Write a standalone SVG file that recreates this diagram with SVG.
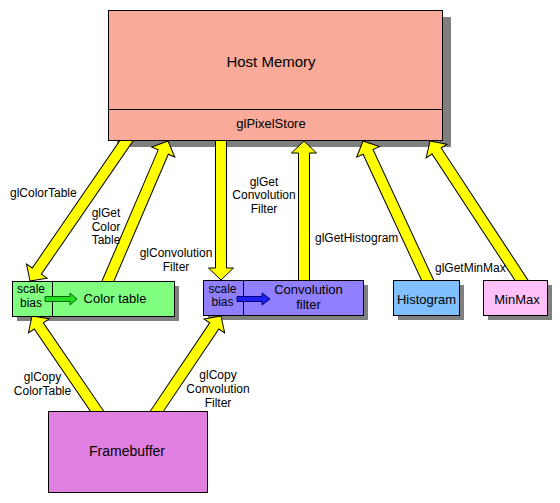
<svg xmlns="http://www.w3.org/2000/svg" width="560" height="503" viewBox="0 0 560 503">
<style>
.bg{fill:#fff}
.shadow{fill:#808080}
.box{stroke:#000;stroke-width:1}
.div{stroke:#000;stroke-width:1;fill:none}
.arrow{fill:#ffff00;stroke:#000;stroke-width:1;stroke-linejoin:miter}
text{font-family:"Liberation Sans",Arial,sans-serif;fill:#000}
.lbl{font-size:12px}
.n13{font-size:13px}
.sb{font-size:12px}
.c{text-anchor:middle}
</style>
<rect class="bg" x="0" y="0" width="560" height="503"/>
<g id="shadows">
<rect class="shadow" x="117" y="17" width="334" height="130"/>
<rect class="shadow" x="17" y="286" width="162" height="35"/>
<rect class="shadow" x="208" y="285" width="160" height="35"/>
<rect class="shadow" x="398" y="285" width="66" height="35"/>
<rect class="shadow" x="488" y="285" width="64" height="35"/>
</g>
<g id="connectors">
<path class="arrow" transform="translate(30,281) rotate(124.53)" d="M0,0 L-12,-12.5 L-12,-5.5 L-177,-5.5 L-177,5.5 L-12,5.5 L-12,12.5 Z"/>
<path class="arrow" transform="translate(168,141) rotate(-66.8)" d="M0,0 L-12,-12.5 L-12,-5.5 L-158,-5.5 L-158,5.5 L-12,5.5 L-12,12.5 Z"/>
<path class="arrow" transform="translate(221,280) rotate(90)" d="M0,0 L-12,-12.5 L-12,-5.5 L-146,-5.5 L-146,5.5 L-12,5.5 L-12,12.5 Z"/>
<path class="arrow" transform="translate(304,141) rotate(-90)" d="M0,0 L-12,-12.5 L-12,-5.5 L-146,-5.5 L-146,5.5 L-12,5.5 L-12,12.5 Z"/>
<path class="arrow" transform="translate(363,141) rotate(-114.9)" d="M0,0 L-12,-12.5 L-12,-5.5 L-160,-5.5 L-160,5.5 L-12,5.5 L-12,12.5 Z"/>
<path class="arrow" transform="translate(430,141) rotate(-123.31)" d="M0,0 L-12,-12.5 L-12,-5.5 L-174,-5.5 L-174,5.5 L-12,5.5 L-12,12.5 Z"/>
<path class="arrow" transform="translate(32,316) rotate(-124.38)" d="M0,0 L-12,-12.5 L-12,-5.5 L-121,-5.5 L-121,5.5 L-12,5.5 L-12,12.5 Z"/>
<path class="arrow" transform="translate(221,316) rotate(-56.03)" d="M0,0 L-12,-12.5 L-12,-5.5 L-121,-5.5 L-121,5.5 L-12,5.5 L-12,12.5 Z"/>
<text class="lbl" x="10" y="197">glColorTable</text>
<text class="lbl c" x="106" y="217">glGet</text>
<text class="lbl c" x="106" y="230.5">Color</text>
<text class="lbl c" x="106" y="244">Table</text>
<text class="lbl c" x="176" y="257">glConvolution</text>
<text class="lbl c" x="176" y="270.5">Filter</text>
<text class="lbl c" x="264" y="185.5">glGet</text>
<text class="lbl c" x="264" y="199">Convolution</text>
<text class="lbl c" x="264" y="212.5">Filter</text>
<text class="lbl" x="315" y="242">glGetHistogram</text>
<text class="lbl" x="435" y="272">glGetMinMax</text>
<text class="lbl c" x="42.5" y="381">glCopy</text>
<text class="lbl c" x="42.5" y="395">ColorTable</text>
<text class="lbl c" x="218" y="379">glCopy</text>
<text class="lbl c" x="218" y="393">Convolution</text>
<text class="lbl c" x="218" y="407">Filter</text>
</g>
<g id="host-memory">
<rect class="box" x="108.5" y="10.5" width="334" height="130" fill="#f9aa98"/>
<line class="div" x1="108.5" y1="109.5" x2="442.5" y2="109.5"/>
<text x="271" y="67" font-size="15" class="c">Host Memory</text>
<text x="271" y="128" font-size="13" class="c">glPixelStore</text>
</g>
<g id="color-table">
<rect class="box" x="12.5" y="281.5" width="162" height="35" fill="#80ff80"/>
<line class="div" x1="52.5" y1="281.5" x2="52.5" y2="316.5"/>
<text class="sb c" x="31" y="293">scale</text>
<text class="sb c" x="31" y="306.5">bias</text>
<path d="M45,296.5 L70,296.5 L70,293 L77,299 L70,305 L70,301.5 L45,301.5 Z" fill="#22dd22" stroke="#006600" stroke-width="1"/>
<text class="n13 c" x="115" y="303">Color table</text>
</g>
<g id="convolution-filter">
<rect class="box" x="203.5" y="280.5" width="160" height="35" fill="#9080ff"/>
<line class="div" x1="243.5" y1="280.5" x2="243.5" y2="315.5"/>
<text class="sb c" x="222.5" y="292.5">scale</text>
<text class="sb c" x="222.5" y="306">bias</text>
<path d="M237,296.5 L262,296.5 L262,293 L270,299 L262,305 L262,301.5 L237,301.5 Z" fill="#2020f0" stroke="#000080" stroke-width="1"/>
<text class="n13 c" x="308.5" y="294">Convolution</text>
<text class="n13 c" x="308.5" y="308.5">filter</text>
</g>
<g id="histogram">
<rect class="box" x="393.5" y="280.5" width="66" height="35" fill="#80c0ff"/>
<text class="n13 c" x="426.5" y="304">Histogram</text>
</g>
<g id="minmax">
<rect class="box" x="483.5" y="280.5" width="64" height="35" fill="#ffc0f8"/>
<text class="n13 c" x="517" y="304">MinMax</text>
</g>
<g id="framebuffer">
<rect class="box" x="48.5" y="411.5" width="159" height="81" fill="#e080e0"/>
<text class="c" font-size="14" x="127" y="456">Framebuffer</text>
</g>
</svg>
